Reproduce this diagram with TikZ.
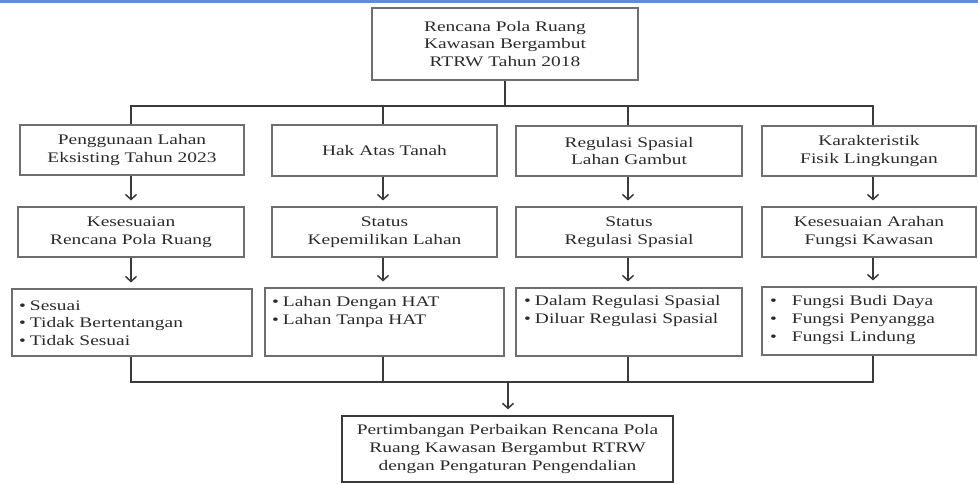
\documentclass[tikz,border=0pt]{standalone}
\usepackage{fontspec}
\setmainfont{Liberation Serif}[FakeStretch=1.33]
\usetikzlibrary{arrows.meta}
\definecolor{boxgray}{HTML}{6E6E6E}
\definecolor{lnc}{HTML}{3A3A3A}
\definecolor{txt}{HTML}{2A2A2A}
\definecolor{topblue}{HTML}{5B8FD0}
\newcommand\mainsize{\fontsize{14.6}{17.6}\selectfont}
\newcommand\finalsize{\fontsize{14.6}{18.3}\selectfont}
\tikzset{
  box/.style={draw=boxgray,line width=1.1pt,inner sep=0pt,align=center,font=\mainsize,text=txt},
  finalbox/.style={box,draw=lnc,line width=1.4pt,font=\finalsize},
  listtxt/.style={inner sep=0pt,align=left,font=\mainsize,text=txt,anchor=north west},
  conn/.style={draw=lnc,line width=1.8pt},
  arr/.style={conn,-{Straight Barb[length=5pt,width=11pt,line width=1.5pt]},shorten >=6pt},
}
\newcommand\bl{\textbullet\hspace{4pt}}
\newcommand\blw{\textbullet\hspace{15pt}}
\begin{document}
\begin{tikzpicture}[x=1pt,y=-1pt]
\useasboundingbox (0,0) rectangle (978,483);
\fill[topblue] (0,0) rectangle (978,2.5);

\node[box,minimum width=266pt,minimum height=72pt] (top) at (505,44) {Rencana Pola Ruang\\Kawasan Bergambut\\RTRW Tahun 2018};

\node[box,minimum width=224pt,minimum height=50pt] (c1b1) at (132,150) {Penggunaan Lahan\\Eksisting Tahun 2023};
\node[box,minimum width=225pt,minimum height=51pt] (c2b1) at (384.5,150.5) {Hak Atas Tanah};
\node[box,minimum width=226pt,minimum height=50pt] (c3b1) at (629,151) {Regulasi Spasial\\Lahan Gambut};
\node[box,minimum width=214pt,minimum height=50pt] (c4b1) at (869,151) {Karakteristik\\Fisik Lingkungan};

\node[box,minimum width=226pt,minimum height=50pt] (c1b2) at (131,232) {Kesesuaian\\Rencana Pola Ruang};
\node[box,minimum width=225pt,minimum height=50pt] (c2b2) at (384.5,232) {Status\\Kepemilikan Lahan};
\node[box,minimum width=226pt,minimum height=50pt] (c3b2) at (629,232) {Status\\Regulasi Spasial};
\node[box,minimum width=214pt,minimum height=50pt] (c4b2) at (869,232) {Kesesuaian Arahan\\Fungsi Kawasan};

\node[box,minimum width=240pt,minimum height=67pt] (c1b3) at (132,322.5) {};
\node[box,minimum width=239pt,minimum height=68pt] (c2b3) at (384.5,322) {};
\node[box,minimum width=226pt,minimum height=68pt] (c3b3) at (629,322) {};
\node[box,minimum width=214pt,minimum height=68pt] (c4b3) at (869,321) {};

\node[listtxt] (l1) at (19,300.5) {\bl Sesuai\\\bl Tidak Bertentangan\\\bl Tidak Sesuai};
\node[listtxt] (l2) at (272,296.5) {\bl Lahan Dengan HAT\\\bl Lahan Tanpa HAT};
\node[listtxt] (l3) at (524,295.5) {\bl Dalam Regulasi Spasial\\\bl Diluar Regulasi Spasial};
\node[listtxt] (l4) at (770,295.5) {\blw Fungsi Budi Daya\\\blw Fungsi Penyangga\\\blw Fungsi Lindung};

\node[finalbox,minimum width=331pt,minimum height=66pt] (final) at (507.5,449) {Pertimbangan Perbaikan Rencana Pola\\Ruang Kawasan Bergambut RTRW\\dengan Pengaturan Pengendalian};

\coordinate (x1) at (131,0);
\coordinate (x2) at (383,0);
\coordinate (x3) at (628,0);
\coordinate (x4) at (873,0);
\coordinate (hub) at (505,106);
\coordinate (hubb) at (508,382);

% top distribution
\draw[conn] (top.south) -- (hub);
\draw[conn] (c1b1.north -| x1) -- (x1 |- hub) -- (x4 |- hub) -- (c4b1.north -| x4);
\draw[conn] (x2 |- hub) -- (c2b1.north -| x2);
\draw[conn] (x3 |- hub) -- (c3b1.north -| x3);

% arrows between rows
\draw[arr] (c1b1.south -| x1) -- (c1b2.north -| x1);
\draw[arr] (c2b1.south -| x2) -- (c2b2.north -| x2);
\draw[arr] (c3b1.south -| x3) -- (c3b2.north -| x3);
\draw[arr] (c4b1.south -| x4) -- (c4b2.north -| x4);
\draw[arr] (c1b2.south -| x1) -- (c1b3.north -| x1);
\draw[arr] (c2b2.south -| x2) -- (c2b3.north -| x2);
\draw[arr] (c3b2.south -| x3) -- (c3b3.north -| x3);
\draw[arr] (c4b2.south -| x4) -- (c4b3.north -| x4);

% bottom collection
\draw[conn] (c1b3.south -| x1) -- (x1 |- hubb) -- (x4 |- hubb) -- (c4b3.south -| x4);
\draw[conn] (c2b3.south -| x2) -- (x2 |- hubb);
\draw[conn] (c3b3.south -| x3) -- (x3 |- hubb);
\draw[arr] (hubb) -- (hubb |- final.north);
\end{tikzpicture}
\end{document}
